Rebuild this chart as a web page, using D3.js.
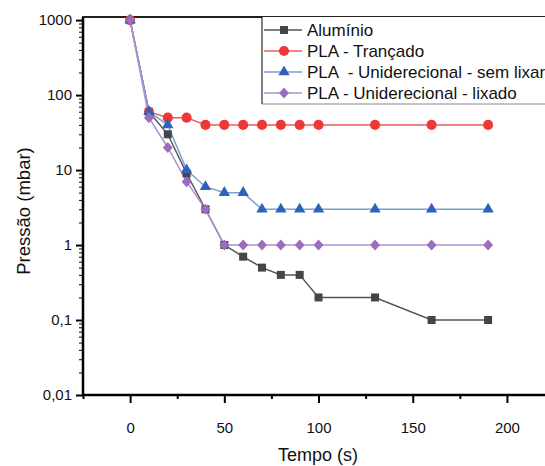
<!DOCTYPE html>
<html>
<head>
<meta charset="utf-8">
<script src="https://cdn.jsdelivr.net/npm/d3@7"></script>
<style>
  body { margin: 0; background: #fff; }
  svg { display: block; font-family: "Liberation Sans", Arial, sans-serif; }
</style>
</head>
<body>
<svg id="chart" width="545" height="466"></svg>
<script>
// --- Data ---
const tempo = [0, 10, 20, 30, 40, 50, 60, 70, 80, 90, 100, 130, 160, 190];
const aluminio = [1000, 60, 30, 9, 3, 1, 0.7, 0.5, 0.4, 0.4, 0.2, 0.2, 0.1, 0.1];
const plaTrancado = [1000, 60, 50, 50, 40, 40, 40, 40, 40, 40, 40, 40, 40, 40];
const plaSemLixar = [1000, 60, 40, 10, 6, 5, 5, 3, 3, 3, 3, 3, 3, 3];
const plaLixado = [1000, 50, 20, 7, 3, 1, 1, 1, 1, 1, 1, 1, 1, 1];
const seriesNames = ["Alumínio", "PLA - Trançado", "PLA  - Uniderecional - sem lixar", "PLA - Uniderecional - lixado"];
const xTicks = [0, 50, 100, 150, 200];
const yTicks = [0.01, 0.1, 1, 10, 100, 1000];
const yTickLabels = ["0,01", "0,1", "1", "10", "100", "1000"];

// wider diamond than d3's default
const wideDiamond = {
  draw(ctx, size) {
    const h = Math.sqrt(size / 2.2);
    const w = h * 0.91;
    ctx.moveTo(0, -h); ctx.lineTo(w, 0); ctx.lineTo(0, h); ctx.lineTo(-w, 0); ctx.closePath();
  }
};

const series = [
  { name: seriesNames[0], values: aluminio, line: "#555", fill: "#454545", shape: d3.symbolSquare, size: 64 },
  { name: seriesNames[1], values: plaTrancado, line: "#f05a5a", fill: "#ee3838", shape: d3.symbolCircle, size: 80 },
  { name: seriesNames[2], values: plaSemLixar, line: "#7d9dd3", fill: "#2f62bb", shape: d3.symbolTriangle, size: 56 },
  { name: seriesNames[3], values: plaLixado, line: "#ad92d2", fill: "#9b6dbf", shape: wideDiamond, size: 66 }
];

const svg = d3.select("#chart");
const mLeft = 83, mBottom = 395, mTop = 17, mRight = 545;

const x = d3.scaleLinear().domain([-25, 220.2]).range([mLeft, mRight]);
const y = d3.scaleLog().domain([0.01, 1100]).range([mBottom, mTop]);

// y axis: minor ticks
const yMinor = [];
for (let e = -2; e < 3; e++) for (let k = 2; k <= 9; k++) yMinor.push(k * Math.pow(10, e));
svg.append("g")
  .attr("transform", `translate(${mLeft},0)`)
  .call(d3.axisLeft(y).tickValues(yMinor).tickSize(4).tickFormat(""))
  .call(g => g.select(".domain").remove())
  .call(g => g.selectAll("line").attr("stroke", "#000").attr("stroke-width", 1));
svg.append("g")
  .attr("transform", `translate(${mLeft},0)`)
  .call(d3.axisLeft(y).tickValues(yTicks).tickSize(7).tickPadding(4)
    .tickFormat((d, i) => yTickLabels[i]))
  .call(g => g.select(".domain").remove())
  .call(g => g.selectAll("line").attr("stroke", "#000").attr("stroke-width", 2))
  .call(g => g.selectAll("text").attr("font-size", 15).attr("fill", "#111")
    .attr("font-family", "'Liberation Sans', Arial, sans-serif"));

// x axis
svg.append("g")
  .attr("transform", `translate(0,${mBottom})`)
  .call(d3.axisBottom(x).tickValues([-25, 25, 75, 125, 175]).tickSize(4).tickFormat(""))
  .call(g => g.select(".domain").remove())
  .call(g => g.selectAll("line").attr("stroke", "#000").attr("stroke-width", 2));
svg.append("g")
  .attr("transform", `translate(0,${mBottom})`)
  .call(d3.axisBottom(x).tickValues(xTicks).tickSize(8).tickPadding(19))
  .call(g => g.select(".domain").remove())
  .call(g => g.selectAll("line").attr("stroke", "#000").attr("stroke-width", 2))
  .call(g => g.selectAll("text").attr("font-size", 15).attr("fill", "#111")
    .attr("font-family", "'Liberation Sans', Arial, sans-serif"));

// frame lines
svg.append("line").attr("x1", mLeft).attr("x2", mLeft).attr("y1", mTop).attr("y2", mBottom + 1)
  .attr("stroke", "#000").attr("stroke-width", 2.5);
svg.append("line").attr("x1", mLeft - 1).attr("x2", mRight).attr("y1", mBottom).attr("y2", mBottom)
  .attr("stroke", "#000").attr("stroke-width", 2.5);
svg.append("line").attr("x1", mLeft - 1).attr("x2", mRight).attr("y1", mTop).attr("y2", mTop)
  .attr("stroke", "#222").attr("stroke-width", 2);

// axis titles
svg.append("text")
  .attr("x", 318).attr("y", 461)
  .attr("text-anchor", "middle")
  .attr("font-size", 18).attr("fill", "#111")
  .text("Tempo (s)");
svg.append("text")
  .attr("transform", "translate(30,211) rotate(-90)")
  .attr("text-anchor", "middle")
  .attr("font-size", 18.5).attr("fill", "#111")
  .text("Pressão (mbar)");

// series
const line = d3.line().x((d, i) => x(tempo[i])).y(d => y(d));
series.forEach(s => {
  svg.append("path")
    .datum(s.values)
    .attr("fill", "none")
    .attr("stroke", s.line)
    .attr("stroke-width", 1.5)
    .attr("d", line);
});
series.forEach(s => {
  svg.append("g")
    .selectAll("path")
    .data(s.values)
    .join("path")
    .attr("transform", (d, i) => `translate(${x(tempo[i])},${y(d)})`)
    .attr("d", d3.symbol().type(s.shape).size(s.size))
    .attr("fill", s.fill);
});

// legend
const lg = svg.append("g");
lg.append("rect")
  .attr("x", 262).attr("y", 17).attr("width", 300).attr("height", 87)
  .attr("fill", "#fff").attr("stroke", "none");
lg.append("line").attr("x1", 262).attr("x2", 262).attr("y1", 17).attr("y2", 104)
  .attr("stroke", "#000").attr("stroke-width", 1);
lg.append("line").attr("x1", 262).attr("x2", 545).attr("y1", 104).attr("y2", 104)
  .attr("stroke", "#888").attr("stroke-width", 1);
const rowY = [30, 51, 72, 93];
series.forEach((s, i) => {
  const g = lg.append("g").attr("transform", `translate(0,${rowY[i]})`);
  g.append("line").attr("x1", 264).attr("x2", 302).attr("y1", 0).attr("y2", 0)
    .attr("stroke", s.line).attr("stroke-width", 1.5);
  g.append("path").attr("transform", "translate(284,0)")
    .attr("d", d3.symbol().type(s.shape).size(s.size))
    .attr("fill", s.fill);
  g.append("text").attr("x", 307).attr("y", 6)
    .attr("font-size", 17).attr("fill", "#111")
    .style("white-space", "pre")
    .text(s.name);
});
</script>
</body>
</html>
